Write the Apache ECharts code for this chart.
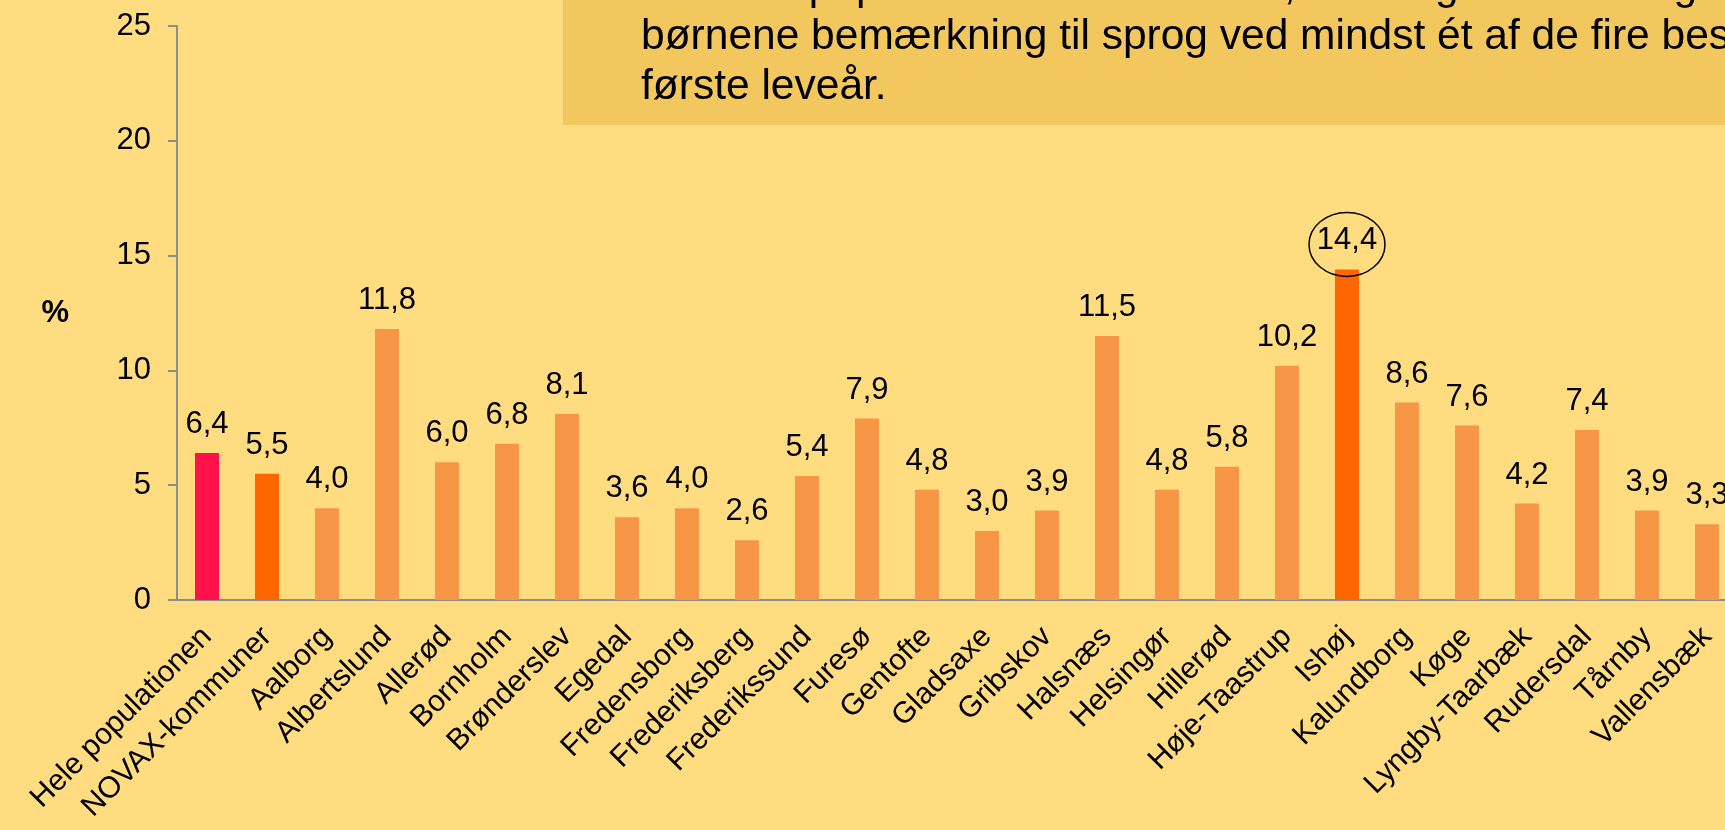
<!doctype html>
<html>
<head>
    <meta charset="utf-8">
    <title></title>
    <style>
    html, body{
        margin: 0;
        padding: 0;
        overflow: hidden;
        background-color: #FFDC80;
    }
    #chart{
        width: 1800px;
        height: 830px;
    }
    </style>
</head>
<body>
<div id="chart"></div>
</body>
<script type="text/javascript" src="https://cdn.jsdelivr.net/npm/echarts@6/dist/echarts.min.js"></script>
<script type="text/javascript">
    var categories = ['Hele populationen', 'NOVAX-kommuner', 'Aalborg', 'Albertslund', 'Allerød', 'Bornholm',
        'Brønderslev', 'Egedal', 'Fredensborg', 'Frederiksberg', 'Frederikssund', 'Furesø', 'Gentofte',
        'Gladsaxe', 'Gribskov', 'Halsnæs', 'Helsingør', 'Hillerød', 'Høje-Taastrup', 'Ishøj', 'Kalundborg',
        'Køge', 'Lyngby-Taarbæk', 'Rudersdal', 'Tårnby', 'Vallensbæk'];
    var values = [6.4, 5.5, 4.0, 11.8, 6.0, 6.8, 8.1, 3.6, 4.0, 2.6, 5.4, 7.9, 4.8,
        3.0, 3.9, 11.5, 4.8, 5.8, 10.2, 14.4, 8.6, 7.6, 4.2, 7.4, 3.9, 3.3];
    var yTicks = [0, 5, 10, 15, 20, 25];
    var boxLines = [
        'For hele populationen som helhed, havde gennemsnitligt 6,4 % af',
        'børnene bemærkning til sprog ved mindst ét af de fire besøg i',
        'første leveår.'
    ];
    var circled = 'Ishøj';

    // farver
    var special = { 'Hele populationen': '#FF1149', 'NOVAX-kommuner': '#FF6600', 'Ishøj': '#FF6600' };
    var normal = '#F79646';
    var font = '"Liberation Sans", Arial, sans-serif';

    var myChart = echarts.init(document.getElementById('chart'));

    var texts = boxLines.map(function (line, i) {
        return {
            type: 'text',
            x: 641,
            y: -13 + i * 50,
            z: 10,
            style: { text: line, font: '42.5px ' + font, fill: '#000', verticalAlign: 'middle', align: 'left' }
        };
    });

    var option = {
        backgroundColor: '#FFDC80',
        animation: false,
        textStyle: { fontFamily: font },
        grid: { left: 177, right: 63, top: 26, bottom: 230 },
        xAxis: {
            type: 'category',
            data: categories,
            axisLine: { lineStyle: { color: '#8C8C8C', width: 2 } },
            axisTick: { length: 8, lineStyle: { color: '#8C8C8C', width: 2 } },
            axisLabel: { rotate: 45, interval: 0, margin: 32, fontSize: 30, color: '#000', fontFamily: font }
        },
        yAxis: {
            type: 'value',
            min: yTicks[0],
            max: yTicks[yTicks.length - 1],
            interval: yTicks[1] - yTicks[0],
            name: '%',
            nameLocation: 'middle',
            nameRotate: 0,
            nameGap: 108,
            nameTextStyle: { fontSize: 31, fontWeight: 'bold', color: '#000', fontFamily: font },
            splitLine: { show: false },
            axisLine: { show: true, lineStyle: { color: '#8C8C8C', width: 2 } },
            axisTick: { show: true, length: 9, lineStyle: { color: '#8C8C8C', width: 2 } },
            axisLabel: { margin: 26, fontSize: 31, color: '#000', fontFamily: font }
        },
        series: [
            {
                type: 'bar',
                barWidth: 24,
                data: values,
                itemStyle: {
                    color: function (p) { return special[p.name] || normal; }
                },
                label: {
                    show: true,
                    position: 'top',
                    distance: 13,
                    fontSize: 31,
                    color: '#000',
                    fontFamily: font,
                    formatter: function (p) { return p.value.toFixed(1).replace('.', ','); }
                }
            }
        ],
        graphic: [
            {
                type: 'rect',
                z: 5,
                shape: { x: 563, y: -10, width: 1300, height: 135 },
                style: { fill: '#F2C75E' }
            }
        ].concat(texts)
    };
    myChart.setOption(option);

    // cirkel om den højeste værdi
    var idx = categories.indexOf(circled);
    var pt = myChart.convertToPixel({ seriesIndex: 0 }, [idx, values[idx]]);
    myChart.setOption({
        graphic: option.graphic.concat([{
            type: 'ellipse',
            z: 20,
            shape: { cx: pt[0], cy: pt[1] - 25, rx: 38, ry: 32 },
            style: { fill: 'none', stroke: '#000', lineWidth: 1.5 }
        }])
    });
</script>
</html>
